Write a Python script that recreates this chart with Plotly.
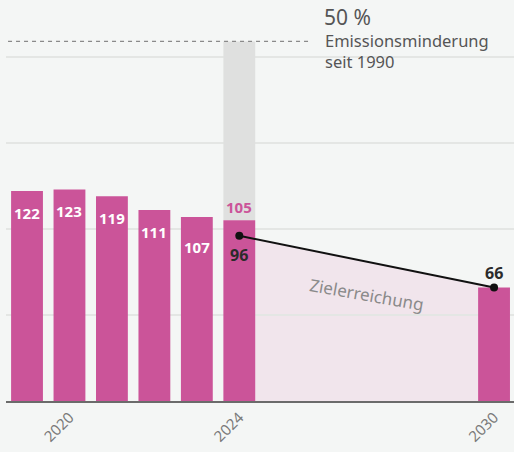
import plotly.graph_objects as go

years = [2019, 2020, 2021, 2022, 2023, 2024, 2030]
values = [122, 123, 119, 111, 107, 105, 66]
bar_labels = ["122", "123", "119", "111", "107", "", ""]
target_level = 209          # 50 % of 1990 emissions
path_years = [2024, 2030]
path_values = [96, 66]
tick_years = [2020, 2024, 2030]
tick_labels = ["2020", "2024", "2030"]

PINK = "#cb5499"
BG = "#f4f6f5"
FONT = "Noto Sans"

fig = go.Figure()

# grey bar from 2024 value to target level
fig.add_trace(go.Bar(x=[2024], y=[target_level - values[5]], base=[values[5]],
                     marker=dict(color="#dfe0df", line_width=0), width=0.75,
                     hoverinfo="skip"))
fig.add_trace(go.Bar(x=years, y=values, marker=dict(color=PINK, line_width=0),
                     width=0.75, hoverinfo="skip"))
fig.add_trace(go.Scatter(x=path_years, y=path_values, mode="lines+markers",
                         line=dict(color="#111", width=2),
                         marker=dict(color="#111", size=8), hoverinfo="skip"))

# fill under target path
fig.add_shape(type="path", layer="below", line_width=0, fillcolor="#f1e5ec",
              path=f"M {path_years[0]},0 L {path_years[0]},{path_values[0]} "
                   f"L {path_years[1]},{path_values[1]} L {path_years[1]},0 Z")
# dashed target line
fig.add_shape(type="line", xref="paper", x0=0.004, x1=0.598, y0=target_level,
              y1=target_level, line=dict(color="#8a8a8a", width=1.3, dash="4px,4px"))

shifts = [-22, -22, -22, -22, -30]
for yr, v, lab, s in zip(years, values, bar_labels, shifts):
    if lab:
        fig.add_annotation(x=yr, y=v, text=f"<b>{lab}</b>", showarrow=False,
                           yshift=s, font=dict(color="white", size=15, family=FONT))

fig.add_annotation(x=2024, y=values[5], text=f"<b>{values[5]}</b>", showarrow=False,
                   yshift=13, font=dict(color=PINK, size=15, family=FONT))
fig.add_annotation(x=path_years[0], y=path_values[0], text=f"<b>{path_values[0]}</b>",
                   showarrow=False, yshift=-19, font=dict(color="#2b2b2b", size=16, family=FONT))
fig.add_annotation(x=path_years[1], y=path_values[1], text=f"<b>{path_values[1]}</b>",
                   showarrow=False, yshift=14, font=dict(color="#2b2b2b", size=16, family=FONT))
fig.add_annotation(x=2027.0, y=62, text="Zielerreichung", showarrow=False, textangle=10,
                   font=dict(color="#8a8a8a", size=17, family=FONT))

fig.add_annotation(xref="paper", yref="paper", x=0.622, y=1 - 17 / 401, yanchor="middle",
                   xanchor="left", text="50 %", showarrow=False,
                   font=dict(color="#555", size=21, family=FONT))
fig.add_annotation(xref="paper", yref="paper", x=0.624, y=1 - 51 / 401, yanchor="middle",
                   xanchor="left", align="left", text="Emissionsminderung<br>seit 1990",
                   showarrow=False, font=dict(color="#555", size=16.5, family=FONT))

fig.update_layout(
    width=514, height=452, paper_bgcolor=BG, plot_bgcolor=BG,
    margin=dict(l=6, r=0, t=0, b=51), showlegend=False, barmode="overlay",
    font=dict(family=FONT),
    xaxis=dict(range=[2018.505, 2030.47], tickvals=tick_years, ticktext=tick_labels,
               tickangle=-45, tickfont=dict(color="#7a7a7a", size=15), showgrid=False,
               showline=True, linecolor="#6b6b6b", linewidth=1.5, zeroline=False, ticks=""),
    yaxis=dict(range=[0, 233.1], dtick=50, showticklabels=False, gridcolor="#e4e6e4",
               gridwidth=2, zeroline=False),
)

fig.write_html("out.html", config={"displayModeBar": False},
               post_script="document.body.style.margin='0';document.body.style.background='%s';" % BG)
